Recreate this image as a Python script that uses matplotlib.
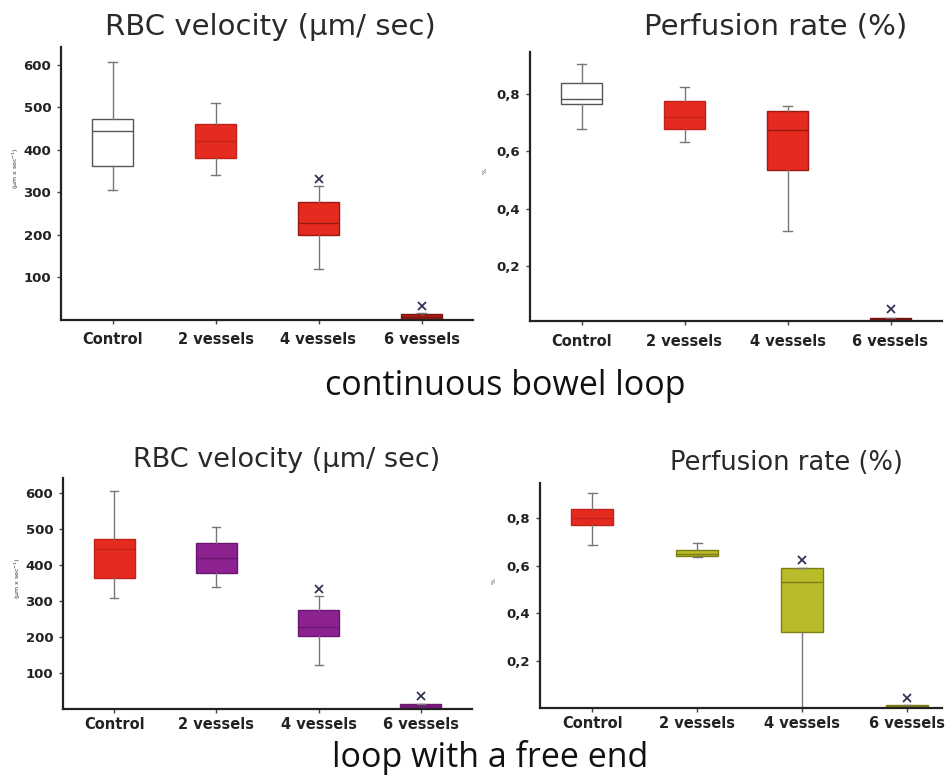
import matplotlib
matplotlib.use("Agg")
import matplotlib.pyplot as plt
from matplotlib.ticker import FuncFormatter

W, H = 951, 776

groups = ["Control", "2 vessels", "4 vessels", "6 vessels"]

# box statistics: whislo, q1, med, q3, whishi, outlier
rbc_cont = {
    "whislo": [306, 341, 120, 0],
    "q1": [362, 380, 199, 2],
    "med": [445, 420, 229, 8],
    "q3": [473, 461, 277, 15],
    "whishi": [607, 510, 314, 16],
    "fliers": [[], [], [332], [34]],
}
perf_cont = {
    "whislo": [0.679, 0.632, 0.323, 0.010],
    "q1": [0.765, 0.677, 0.534, 0.012],
    "med": [0.780, 0.720, 0.675, 0.016],
    "q3": [0.837, 0.775, 0.739, 0.020],
    "whishi": [0.902, 0.823, 0.758, 0.022],
    "fliers": [[], [], [], [0.053]],
}
rbc_free = {
    "whislo": [308, 339, 121, 0],
    "q1": [364, 379, 202, 3],
    "med": [445, 419, 229, 8],
    "q3": [472, 461, 276, 14],
    "whishi": [605, 507, 315, 15],
    "fliers": [[], [], [333], [35]],
}
perf_free = {
    "whislo": [0.685, 0.636, 0.0, 0.006],
    "q1": [0.768, 0.638, 0.324, 0.008],
    "med": [0.800, 0.650, 0.530, 0.012],
    "q3": [0.838, 0.664, 0.589, 0.016],
    "whishi": [0.904, 0.696, 0.589, 0.018],
    "fliers": [[], [], [0.622], [0.048]],
}

red = "#e52b1f"
dred = "#b01c14"
purple = "#8c2290"
olive = "#b9bc2a"

colors_tl = ["white", red, red, dred]
colors_tr = ["white", red, red, red]
colors_bl = [red, purple, purple, purple]
colors_br = [red, olive, olive, olive]

edges_tl = ["#555555", "#c0221a", "#9a1a12", "#7a1410"]
edges_tr = ["#555555", "#c0221a", "#9a1a12", "#7a1410"]
edges_bl = ["#c0221a", "#6a1570", "#6a1570", "#6a1570"]
edges_br = ["#c0221a", "#7c7e15", "#7c7e15", "#7c7e15"]


def comma(v, pos):
    return ("%.1f" % v).replace(".", ",")


def panel(rect, data, fcs, ecs, ylim, yticks, xlim, ylabel, ylab_x, pct=False, xpad=6):
    l, t, r, b = rect
    ax = fig.add_axes([l / W, 1 - b / H, (r - l) / W, (b - t) / H])
    stats = []
    for i, g in enumerate(groups):
        stats.append({
            "label": g,
            "whislo": data["whislo"][i],
            "q1": data["q1"][i],
            "med": data["med"][i],
            "q3": data["q3"][i],
            "whishi": data["whishi"][i],
            "fliers": data["fliers"][i],
        })
    bp = ax.bxp(stats, positions=range(4), widths=0.4, patch_artist=True,
                capwidths=0.08,
                whiskerprops=dict(color="#777777", lw=1.0),
                capprops=dict(color="#777777", lw=1.0),
                flierprops=dict(marker="x", markersize=6, markeredgecolor="#333355",
                                markeredgewidth=1.3))
    for i, box in enumerate(bp["boxes"]):
        box.set_facecolor(fcs[i])
        box.set_edgecolor(ecs[i])
        box.set_linewidth(1.0)
        bp["medians"][i].set_color(ecs[i])
        bp["medians"][i].set_linewidth(1.0)
    ax.set_xlim(*xlim)
    ax.set_ylim(*ylim)
    ax.set_yticks(yticks)
    if pct:
        ax.yaxis.set_major_formatter(FuncFormatter(comma))
    for s in ["top", "right"]:
        ax.spines[s].set_visible(False)
    for s in ["left", "bottom"]:
        ax.spines[s].set_linewidth(1.6)
        ax.spines[s].set_color("#222222")
    ax.tick_params(axis="both", length=3, width=1, color="#444444", pad=4)
    ax.tick_params(axis="x", pad=xpad)
    for lab in ax.get_xticklabels() + ax.get_yticklabels():
        lab.set_fontweight("bold")
        lab.set_fontsize(10.5)
        lab.set_fontfamily("DejaVu Sans")
        lab.set_color("#222222")
    for lab in ax.get_yticklabels():
        lab.set_fontsize(9.5)
    fig.text(ylab_x / W, 1 - ((t + b) / 2 - 15) / H, ylabel, rotation=90,
             fontsize=4.5, ha="center", va="center", color="#333333")
    return ax


fig = plt.figure(figsize=(W / 100, H / 100), dpi=100)

panel((61, 47, 473, 320), rbc_cont, colors_tl, edges_tl, (0, 642),
      [100, 200, 300, 400, 500, 600], (-0.5, 3.5), "(µm x sec$^{-1}$)", 16)
panel((530, 52, 942, 321), perf_cont, colors_tr, edges_tr, (0.01, 0.945),
      [0.2, 0.4, 0.6, 0.8], (-0.5, 3.5), "%", 485, pct=True)
panel((63, 478, 472, 709), rbc_free, colors_bl, edges_bl, (0, 642),
      [100, 200, 300, 400, 500, 600], (-0.5, 3.5), "(µm x sec$^{-1}$)", 18, xpad=3)
panel((540, 483, 942, 708), perf_free, colors_br, edges_br, (0.005, 0.945),
      [0.2, 0.4, 0.6, 0.8], (-0.5, 3.33), "%", 494, pct=True, xpad=3)

tfont = dict(family="DejaVu Sans", color="#2a2a2a", ha="center", va="baseline")
fig.text(270 / W, 1 - 35 / H, "RBC velocity (µm/ sec)", fontsize=21, **tfont)
fig.text(776 / W, 1 - 35 / H, "Perfusion rate (%)", fontsize=21, **tfont)
fig.text(287 / W, 1 - 467 / H, "RBC velocity (µm/ sec)", fontsize=19.5, **tfont)
fig.text(786 / W, 1 - 470 / H, "Perfusion rate (%)", fontsize=18.5, **tfont)

cfont = dict(family="Open Sans", color="#111111", ha="center", va="baseline")
fig.text(505 / W, 1 - 395 / H, "continuous bowel loop", fontsize=24.5, **cfont)
fig.text(490 / W, 1 - 767 / H, "loop with a free end", fontsize=24.5, **cfont)

fig.savefig("out.png", dpi=100, facecolor="white")
